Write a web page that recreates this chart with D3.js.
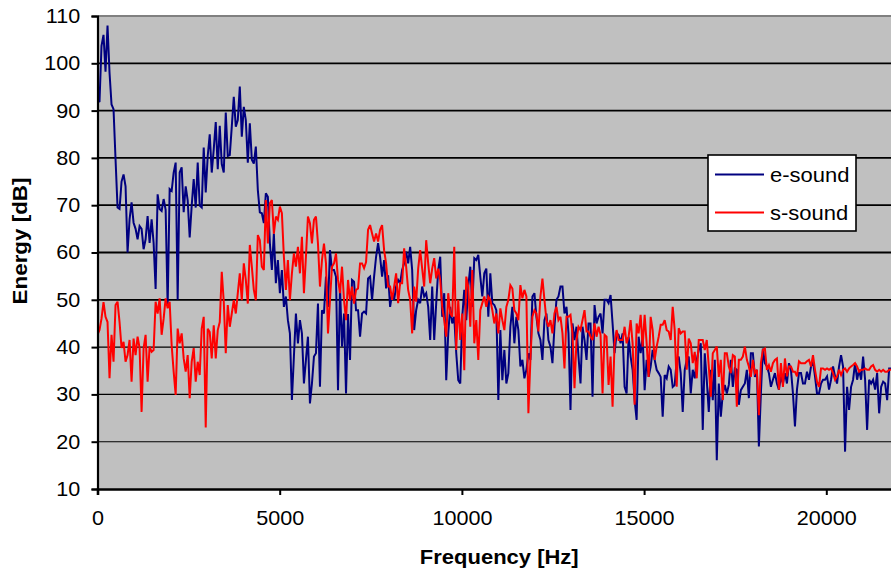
<!DOCTYPE html>
<html>
<head>
<meta charset="utf-8">
<script src="https://cdn.jsdelivr.net/npm/d3@7"></script>
<style>
  body { margin: 0; background: #fff; }
  text { font-family: "Liberation Sans", Arial, sans-serif; }
</style>
</head>
<body>
<div id="chart"></div>
<script>
//series info
const seriesNames = ['e-sound', 's-sound']
const seriesColors = ['#000080', '#ff0000']

//spacing of the spectrum bins in Hz
const freqStep = 55

//energy in dB, one value per bin
const eSound = [
  92.4, 91.8, 103.7, 106, 98.2, 108, 98, 91.3, 90.3, 79.7,
  69.5, 69.2, 75, 76.5, 74, 60, 67, 70.6, 66.3, 65,
  62.8, 65.6, 65, 60.7, 62.8, 67.7, 62, 67, 62, 52.3,
  72.3, 69.2, 68.8, 71.3, 69, 48.7, 73.4, 73, 76.9, 79,
  50, 76.9, 78, 68.5, 74, 71, 63.2, 69.9, 75.5, 69.5,
  79, 69.9, 69.5, 82.2, 72.7, 80.4, 85, 76.9, 81.8, 87.6,
  77.6, 86.8, 78.7, 76.9, 89.6, 80.4,
  80.6, 86.6, 92.9, 86.6, 88, 95.1, 84.5, 90.8, 88, 79,
  87.3, 79.6, 78.8, 82.4, 73.2, 68.5, 68.3, 66.2, 72.5, 71.8,
  62, 56.3, 64, 53.5, 58.4, 51.4, 56.3, 48.5, 50.7, 45.7,
  42.9, 28.8, 38, 47.1, 40.8, 45.7, 42.9, 32.3, 37.3, 42.2,
  28.1, 32.3, 38, 38.7, 49.2, 31.6, 47.8, 47.1, 54.9, 48.5,
  60.5, 56.3, 56.3, 54.9, 30.9, 52.8, 40.1, 47.1, 30.2, 47,
  37.3, 54.2, 53.8, 47.8, 47.8, 42.2, 47.1,
  47.5, 47.1, 54.5, 54.9, 50, 54.9, 59.1, 62, 59.1, 54.9,
  58.4, 52.4, 55.2, 48.5, 51.4, 50, 52.8, 54.2, 53.5, 56.3,
  57.7, 60.2, 57.7, 61.2, 56.3, 43.6, 47.8, 50, 49.3, 52.8,
  50.7, 51.4, 48.5, 41.5, 52.8, 41.5, 49.3, 56.3, 59.1, 46.4,
  51.4, 33, 42.9, 48.5, 45, 46.4, 38.7, 33, 32.3, 46.4,
  52.1, 45.7, 52.8, 57, 48.5, 58.8, 58.4, 59.5, 54.9, 50.7,
  55.6, 56.6, 46.4, 55.6, 49.3, 48.9,
  47.8, 28.8, 43.6, 33, 39.4, 32.3, 34.5, 44.3, 48.5, 40.8,
  46.4, 43.6, 35.9, 37.3, 33.4, 35.2, 38.7, 37.3, 50.7, 51.4,
  46.4, 42.9, 41.5, 37.3, 45.7, 47.1, 41.5, 40.1, 36.6, 44.3,
  50, 50.7, 52.8, 52.8, 47.1, 48.5, 42.9, 26.7, 45, 41.5,
  44.3, 38, 32.3, 44.3, 41.5, 37.3, 45, 45, 29.5, 48.9,
  45, 46.4, 47.1, 42.9, 50, 50, 49.3, 51, 45, 38.7,
  42.9, 42.6, 40.8, 42.9, 31.6, 30.2, 42.2,
  38, 35.2, 28.8, 24.6, 42.2, 38.7, 42.2, 30.9, 37.3, 33.7,
  35.9, 39.4, 37.3, 35.2, 34.5, 33.7, 25.3, 34.1, 33.4, 35.9,
  35.2, 31.6, 32, 37.3, 38, 34.5, 26.3, 35.2, 37.3, 38,
  30.2, 35.2, 33.4, 37.3, 39.4, 40.8, 22.5, 38.7, 33, 26.3,
  35.2, 28.8, 37.3, 16.1, 32.3, 25.3, 30.2, 32, 30.2, 32,
  37.3, 31.6, 35.5, 35.2, 27.8, 30.9, 31.6, 32.3, 35.2, 29.2,
  38.7, 38.7, 33.7, 35.2, 19, 30.2,
  39.7, 36.6, 35.9, 34.5, 31.6, 33.1, 34.5, 32.3, 31, 33.8,
  32.3, 34.5, 32.3, 36.6, 35.2, 30.2, 23.2, 31, 34.5, 34.5,
  32.3, 32.3, 34.8, 33.1, 35.9, 37, 33.8, 30.2, 30.2, 32.3,
  33.1, 33.1, 33.8, 31, 33.1, 35.9, 33.8, 32.3, 35.9, 38.3,
  35.9, 17.9, 31.6, 26.7, 31.6, 33.1, 36.6, 33.1, 35.2, 33.1,
  38, 33.1, 22.5, 33.1, 32.3, 33.1, 31, 34.5, 26, 31.6,
  32.7, 32.3, 28.8, 35.5, 35.5
]

const sSound = [
  42.6, 43.6, 46, 49.5, 46.4, 45.3, 33.4, 42.6, 36.9, 48.9,
  49.6, 45.3, 39.8, 41.1, 36.9, 38.3, 41.5, 32.7, 41.8, 38.3,
  42.2, 39.8, 26.3, 39.8, 42.6, 32.7, 40.1, 39, 39.4, 49.6,
  47.1, 50.3, 42.6, 46, 50.3, 48.2, 49.6, 40.4, 34.8, 29.9,
  43.9, 40.8, 42.9, 37.6, 34.8, 38.3, 29.2, 36.9, 39.8, 32.7,
  36.9, 34.1, 43.9, 46.4, 23, 43.9, 43.2, 37.6, 44.6, 37.6,
  43.6, 45.3, 55.9, 49.6, 38.7, 48.9,
  44.3, 47.1, 49.9, 47.1, 51.4, 55.6, 49.9, 57.7, 54.2, 49.2,
  61.6, 57, 52.1, 49.9, 63.7, 62.6, 57, 56.3, 71.1, 61.9,
  70.4, 71.1, 64, 67.6, 66.9, 69.7, 68.3, 59.1, 52.1, 58.4,
  49.9, 55.6, 59.8, 57, 61.2, 55.6, 63.3, 51.4, 59.1, 67.6,
  66.2, 61.9, 66.9, 67.6, 61.9, 52.8, 58.4, 61.9, 57.7, 42.9,
  49.9, 57, 57.7, 59.8, 54.2, 51.4, 57, 49.9, 45.7, 54.2,
  49.9, 52.8, 49.2, 52.1, 52.4, 57.7, 57.7,
  56.7, 58, 64.8, 65.8, 64, 62.3, 64, 62.3, 64.8, 65.8,
  60.5, 57.7, 52.8, 52.8, 50, 52.8, 55.6, 49.3, 53.5, 53.5,
  60.9, 57, 52.1, 50, 42.9, 52.8, 49.6, 56.6, 60.5, 56.6,
  52.8, 62.6, 57.7, 53.5, 56.6, 58.8, 54.5, 56.6, 54.2, 48.5,
  45.7, 42.2, 51.4, 47.1, 46.4, 61.2, 39.4, 50, 41.5, 47.1,
  35.1, 54.9, 52.8, 44.3, 56.3, 40.8, 45.7, 37.3, 47.8, 49.3,
  50.7, 48.5, 50.7, 50, 47.8, 45,
  47.1, 42.9, 48.2, 45.7, 43.6, 48.5, 50, 53.1, 52.4, 47.8,
  47.1, 45.7, 53.1, 50.3, 52.1, 50.7, 26, 37.3, 46.4, 47.8,
  47.1, 43.3, 50.7, 54.5, 50, 45.7, 44.3, 45.7, 42.9, 47.1,
  48.5, 45.7, 46.4, 42.9, 35.5, 46.4, 46.4, 46.8, 42.9, 31.3,
  41.5, 44.3, 43.6, 45.7, 47.8, 43.3, 43.3, 42.2, 41.5, 45,
  42.2, 44.3, 42.6, 30.2, 42.6, 42.2, 32, 38, 27.4, 40.8,
  43.6, 41.5, 41.5, 41.5, 44.3, 40.8, 42.2,
  45.7, 40.8, 27.8, 45, 42.9, 46.8, 40.1, 46.8, 40.8, 33.7,
  46.4, 43.6, 37.3, 40.1, 42.2, 44.7, 44.7, 45.7, 43.6, 43.3,
  41.5, 48.5, 43.6, 31.6, 44, 42.9, 43.3, 43.3, 35.2, 41.8,
  40.8, 36.6, 39, 33.4, 41.5, 41.5, 41.5, 39.4, 41.5, 35.9,
  29.5, 38.7, 39.4, 40.1, 33.7, 37.3, 28.8, 38.7, 38.7, 35.9,
  34.5, 38.3, 38, 27.4, 37.3, 37.3, 38, 40.1, 37.3, 35.9,
  33.7, 37.3, 34.5, 35.2, 25.6, 36.6,
  39.4, 39.7, 35.2, 36.2, 34.8, 36.6, 37.3, 37.6, 31, 36.6,
  31.6, 37.6, 33.8, 35.9, 35.9, 34.8, 34.8, 33.8, 37, 36.6,
  36.6, 36.6, 37, 37.3, 35.9, 38.3, 35.2, 32.7, 31.6, 35.5,
  35.5, 35.2, 35.5, 35.2, 35.5, 34.5, 33.1, 33.8, 35.2, 34.1,
  35.2, 35.5, 34.8, 35.5, 35.9, 36.2, 36.6, 35.9, 34.8, 35.2,
  35.2, 35.5, 35.2, 35.2, 35.9, 36.2, 35.2, 34.8, 35.2, 34.8,
  35.2, 34.8, 34.8, 35.2, 35.2
]

//axis ticks
const yTicks = [10, 20, 30, 40, 50, 60, 70, 80, 90, 100, 110]
const xTicks = [0, 5000, 10000, 15000, 20000]
const gridValues = [20, 30, 40, 50, 60, 70, 80, 90, 100]

function draw() {
  //dimensions
  let dimensions = {
    width: 891,
    height: 571,
    margin: {
      top: 16,
      bottom: 82,
      left: 97.5,
      right: -10   //plot area runs past the right edge of the picture
    }
  }
  dimensions.ctrWidth = dimensions.width - dimensions.margin.left - dimensions.margin.right
  dimensions.ctrHeight = dimensions.height - dimensions.margin.top - dimensions.margin.bottom

  const svg = d3.select('#chart')
    .append('svg')
    .attr('width', dimensions.width)
    .attr('height', dimensions.height)
    .style('display', 'block')

  const ctr = svg.append('g')
    .attr('transform', `translate(${dimensions.margin.left},${dimensions.margin.top})`)

  //scales
  const xScale = d3.scaleLinear()
    .domain([0, 22050])
    .range([0, dimensions.ctrWidth])

  const yScale = d3.scaleLinear()
    .domain([10, 110])
    .range([dimensions.ctrHeight, 0])

  //plot area
  ctr.append('rect')
    .attr('width', dimensions.ctrWidth)
    .attr('height', dimensions.ctrHeight)
    .attr('fill', '#c0c0c0')

  ctr.append('line')
    .attr('x1', 0)
    .attr('x2', dimensions.ctrWidth)
    .attr('y1', yScale(110))
    .attr('y2', yScale(110))
    .attr('stroke', '#808080')
    .attr('stroke-width', 2)

  //gridlines
  ctr.append('g')
    .selectAll('line')
    .data(gridValues)
    .join('line')
    .attr('x1', 0)
    .attr('x2', dimensions.ctrWidth)
    .attr('y1', d => yScale(d))
    .attr('y2', d => yScale(d))
    .attr('stroke', '#000')
    .attr('stroke-width', d => d >= 50 ? 1.8 : 1.1)

  //lines
  svg.append('clipPath')
    .attr('id', 'plot-clip')
    .append('rect')
    .attr('width', dimensions.ctrWidth)
    .attr('height', dimensions.ctrHeight)

  const lineGen = d3.line()
    .x((d, i) => xScale(i * freqStep))
    .y(d => yScale(d))

  ctr.append('g')
    .attr('clip-path', 'url(#plot-clip)')
    .selectAll('path')
    .data([eSound, sSound])
    .join('path')
    .attr('d', d => lineGen(d))
    .attr('fill', 'none')
    .attr('stroke', (d, i) => seriesColors[i])
    .attr('stroke-width', 2)
    .attr('stroke-linejoin', 'miter')
    .attr('stroke-miterlimit', 3)

  //y axis
  const yAxis = d3.axisLeft(yScale)
    .tickValues(yTicks)
    .tickSize(6)
    .tickPadding(10)

  const yAxisGroup = ctr.append('g')
    .call(yAxis)
  yAxisGroup.select('.domain').attr('stroke-width', 2.2)
  yAxisGroup.selectAll('.tick line').attr('stroke-width', 2)
  yAxisGroup.selectAll('.tick text')
    .attr('font-size', 20)
    .attr('fill', '#000')
    .attr('font-family', '"Liberation Sans", Arial, sans-serif')
    .attr('transform', 'scale(1.08,1)')

  //x axis
  const xAxis = d3.axisBottom(xScale)
    .tickValues(xTicks)
    .tickSize(6)
    .tickPadding(16)
    .tickFormat(d3.format('d'))

  const xAxisGroup = ctr.append('g')
    .attr('transform', `translate(0,${dimensions.ctrHeight})`)
    .call(xAxis)
  xAxisGroup.select('.domain').attr('stroke-width', 2.6)
  xAxisGroup.selectAll('.tick line').attr('stroke-width', 2)
  xAxisGroup.selectAll('.tick text')
    .attr('font-size', 20)
    .attr('fill', '#000')
    .attr('font-family', '"Liberation Sans", Arial, sans-serif')
    .attr('transform', 'scale(1.08,1)')

  //axis titles
  svg.append('text')
    .attr('transform', `translate(${dimensions.margin.left + dimensions.ctrWidth / 2},564) scale(1.1,1)`)
    .attr('text-anchor', 'middle')
    .attr('font-size', 20)
    .attr('font-weight', 'bold')
    .text('Frequency [Hz]')

  svg.append('text')
    .attr('transform', 'translate(27,241) rotate(-90) scale(1.12,1)')
    .attr('text-anchor', 'middle')
    .attr('font-size', 20)
    .attr('font-weight', 'bold')
    .text('Energy [dB]')

  //legend
  const legend = svg.append('g')
    .attr('transform', 'translate(708,155)')

  legend.append('rect')
    .attr('width', 148)
    .attr('height', 76)
    .attr('fill', '#fff')
    .attr('stroke', '#000')
    .attr('stroke-width', 1.6)

  const items = legend.selectAll('g.item')
    .data(seriesNames)
    .join('g')
    .attr('class', 'item')
    .attr('transform', (d, i) => `translate(0,${19.5 + i * 38})`)

  items.append('line')
    .attr('x1', 7)
    .attr('x2', 56)
    .attr('stroke', (d, i) => seriesColors[i])
    .attr('stroke-width', 2)

  items.append('text')
    .attr('transform', 'translate(62,7) scale(1.1,1)')
    .attr('font-size', 20)
    .text(d => d)
}

draw()
</script>
</body>
</html>
